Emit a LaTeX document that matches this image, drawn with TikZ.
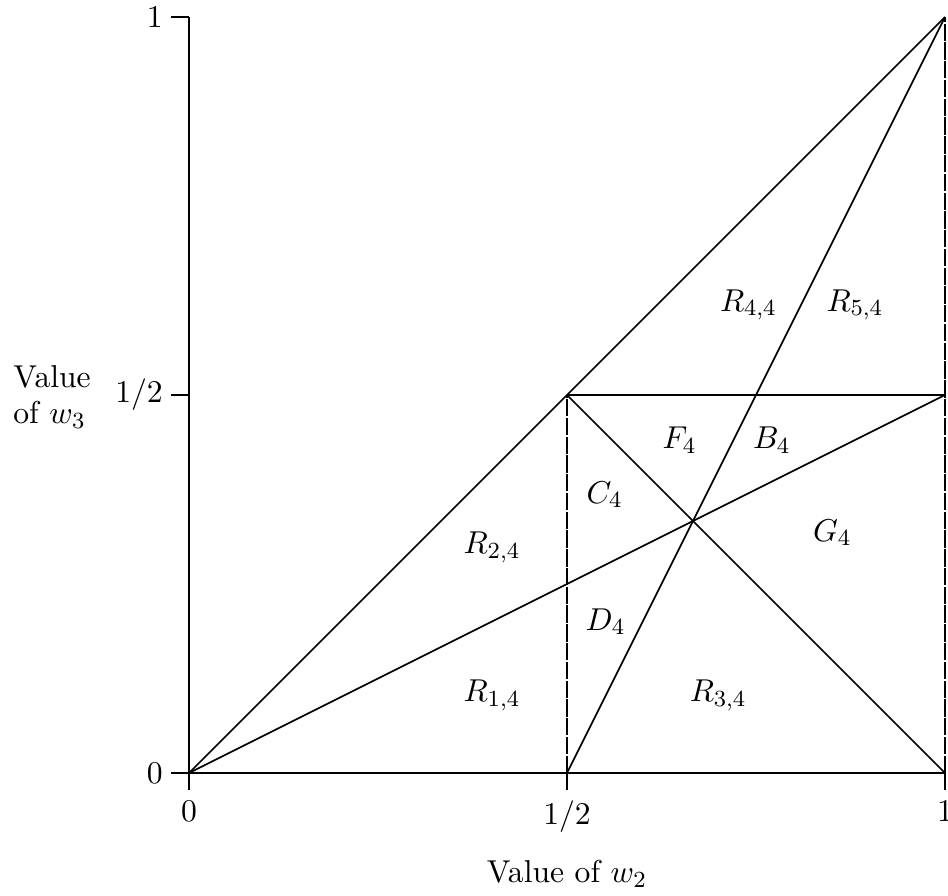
\documentclass[tikz,border=0pt]{standalone}
\usepackage{amsmath}
\begin{document}
\begin{tikzpicture}[x=9.2cm,y=9.2cm,
  font=\fontsize{10.95}{12.5}\selectfont,
  axis/.style={line width=1pt},
  edge/.style={line width=0.6pt},
  guide/.style={line width=0.6pt,dash pattern=on 6pt off 0.5pt},
  ticklbl/.style={inner sep=0pt},
  region/.style={inner sep=0pt}]

\useasboundingbox (-0.25,-0.1627) rectangle (1.004,1.0225);

% corners of the square and the meeting point
\coordinate (O) at (0,0);
\coordinate (xh) at (0.5,0);
\coordinate (xo) at (1,0);
\coordinate (yh) at (0,0.5);
\coordinate (yo) at (0,1);
\coordinate (mid) at (0.5,0.5);
\coordinate (rh) at (1,0.5);
\coordinate (top) at (1,1);
\coordinate (P) at (2/3,1/3);

% vertical guides
\draw[guide] (xh) -- (mid);
\draw[guide] (xo) -- (top);

% boundaries of the regions
\draw[edge] (O) -- (top);
\draw[edge] (O) -- (rh);
\draw[edge] (xh) -- (top);
\draw[edge] (mid) -- (rh);
\draw[edge] (mid) -- (xo);

% axes and ticks
\draw[axis] (xo) -- (O) -- (yo);
\foreach \t in {0,0.5,1}{
  \draw[axis] (\t,0) -- (\t,-0.022);
  \draw[axis] (0,\t) -- (-0.024,\t);
}
\node[ticklbl,anchor=north] (x0) at (0,-0.036) {$0$};
\node[ticklbl,anchor=north] (x1) at (0.5,-0.036) {$1/2$};
\node[ticklbl,anchor=north] (x2) at (1,-0.036) {$1$};
\node[ticklbl,anchor=east] (y0) at (-0.034,0) {$0$};
\node[ticklbl,anchor=east] (y1) at (-0.034,0.5) {$1/2$};
\node[ticklbl,anchor=east] (y2) at (-0.034,1) {$1$};

% axis names
\node[ticklbl,anchor=base] (xname) at (0.5,-0.1455) {Value of $w_2$};
\node[ticklbl,anchor=west,align=left] (yname) at (-0.233,0.497)
  {Value\\of $w_3$};

% region names
\node[region] (r44) at (0.740,0.619) {$R_{4,4}$};
\node[region] (r54) at (0.881,0.619) {$R_{5,4}$};
\node[region] (f4) at (0.649,0.440) {$F_4$};
\node[region] (b4) at (0.771,0.440) {$B_4$};
\node[region] (c4) at (0.550,0.368) {$C_4$};
\node[region] (g4) at (0.851,0.318) {$G_4$};
\node[region] (r24) at (0.401,0.298) {$R_{2,4}$};
\node[region] (d4) at (0.551,0.200) {$D_4$};
\node[region] (r14) at (0.401,0.103) {$R_{1,4}$};
\node[region] (r34) at (0.700,0.103) {$R_{3,4}$};

\end{tikzpicture}
\end{document}
